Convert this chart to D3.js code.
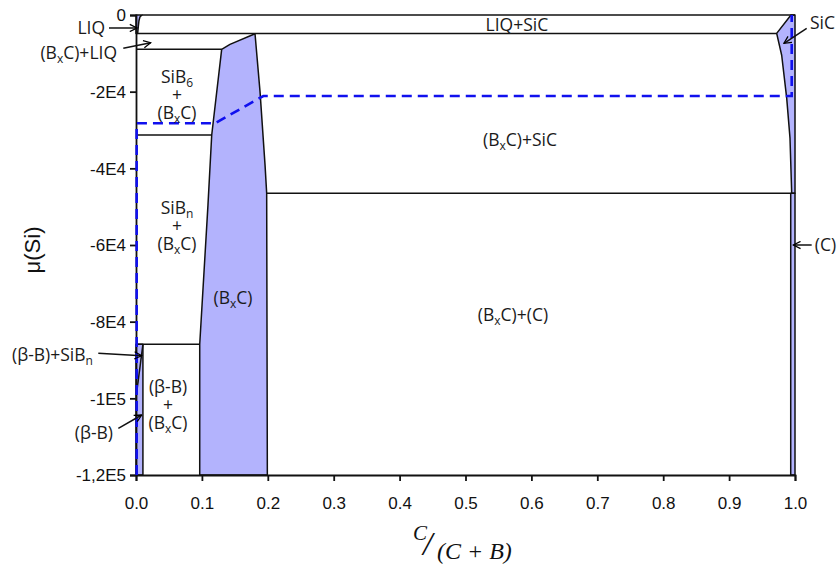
<!DOCTYPE html>
<html><head><meta charset="utf-8">
<script src="https://cdn.jsdelivr.net/npm/d3@7"></script>
<style>body{margin:0;background:#fff}svg{display:block}</style>
</head><body>
<svg id="c" width="839" height="565"></svg>
<script>
// ---- data (x = C/(C+B), mu = μ(Si)) ----
const xTicks = [0,0.1,0.2,0.3,0.4,0.5,0.6,0.7,0.8,0.9,1.0];
const yTicks = [0,-20000,-40000,-60000,-80000,-100000,-120000];
const yTickLabels = ["0","-2E4","-4E4","-6E4","-8E4","-1E5","-1,2E5"];

// single-phase (shaded) regions
const phaseLIQ = [[0,0],[0.009,0],[0.006,-500],[0.0045,-1500],[0.0035,-3000],[0.0025,-4800],[0,-4800]];
const phaseBxC = [[0.130,-8950],[0.1426,-7650],[0.1806,-4900],[0.1882,-20000],[0.1958,-39100],[0.1983,-46500],[0.1993,-120000],[0.0967,-120000],[0.0967,-85900],[0.1092,-49600],[0.1149,-31300]];
const phaseSiC = [[0.9939,0],[0.9722,-4800],[0.9798,-10500],[0.9874,-21700],[0.9924,-32100],[0.9950,-46500],[1,-46500],[1,0]];
const phaseC   = [[0.9935,-46500],[1,-46500],[1,-120000],[0.9935,-120000]];
const phaseBB  = [[0,-85900],[0.0105,-85900],[0.0105,-120000],[0,-120000]];

// phase boundaries (lines)
const bTop      = [[0.009,0],[1,0]];
const bLiqSiC   = [[0.0025,-4800],[0.9722,-4800]];
const bSiB6Top  = [[0,-8950],[0.130,-8950]];
const bSiB6Bot  = [[0,-31300],[0.1149,-31300]];
const bBxCSiC   = [[0.1983,-46500],[0.9935,-46500]];
const bSiBnBot  = [[0,-85900],[0.0967,-85900]];
const bBetaDiag = [[0.0105,-85900],[0.001,-98500]];

// dashed line
const dashedPath = [[0.001,-120000],[0.001,-28250],[0.1199,-28250],[0.1932,-21130],[0.995,-21130],[0.995,0]];

// labels: [text (| = new line), x, mu of first line, anchor]
const labels = [
  ["LIQ", -0.047, -3390, "end"],
  ["(B_xC)+LIQ", -0.0288, -9900, "end"],
  ["SiB_6|+|(B_xC)", 0.0622, -16300, "middle"],
  ["LIQ+SiC", 0.578, -2600, "middle"],
  ["SiC", 1.0228, -2090, "start"],
  ["(B_xC)+SiC", 0.5827, -32600, "middle"],
  ["SiB_n|+|(B_xC)", 0.0622, -50350, "middle"],
  ["(B_xC)", 0.1472, -73830, "middle"],
  ["(B_xC)+(C)", 0.572, -78260, "middle"],
  ["(C)", 1.030, -60000, "start"],
  ["(β-B)+SiB_n", -0.0653, -88700, "end"],
  ["(β-B)|+|(B_xC)", 0.0486, -97170, "middle"],
  ["(β-B)", -0.0349, -109040, "end"]
];

// arrows: [x1, mu1, x2, mu2]
const arrows = [
  [-0.041,-3390, 0.0015,-3390],
  [-0.0193,-8690, 0.0223,-7230],
  [1.0177,-3470, 0.9833,-7380],
  [1.0253,-60000, 0.9975,-60000],
  [-0.0572,-88260, 0.0085,-88900],
  [-0.0268,-107820, 0.0086,-104350]
];

// ---- drawing ----
const svg = d3.select("#c");
const x = d3.scaleLinear([0,1],[136,795]);
const y = d3.scaleLinear([-120000,0],[475,15]);
const line = d3.line().x(d=>x(d[0])).y(d=>y(d[1]));

const defs = svg.append("defs");
defs.append("marker").attr("id","arr").attr("viewBox","0 0 10 10")
  .attr("refX",9).attr("refY",5).attr("markerWidth",9).attr("markerHeight",9)
  .attr("markerUnits","userSpaceOnUse").attr("orient","auto")
  .append("path").attr("d","M1,1 L9,5 L1,9").attr("fill","none")
  .attr("stroke","#000").attr("stroke-width",1.4);

const fillCol = "#b3b3fd";
[phaseLIQ, phaseBxC, phaseSiC, phaseC, phaseBB].forEach(p=>{
  svg.append("path").attr("d", line(p)+"Z").attr("fill",fillCol)
    .attr("stroke","#111").attr("stroke-width",1.5).attr("stroke-linejoin","round");
});

[bTop,bLiqSiC,bSiB6Top,bSiB6Bot,bBxCSiC,bSiBnBot,bBetaDiag].forEach(b=>{
  svg.append("path").attr("d", line(b)).attr("fill","none")
    .attr("stroke","#111").attr("stroke-width",1.5);
});

// axes
const gx = svg.append("g").attr("transform",`translate(0,${y(-120000)})`)
  .call(d3.axisBottom(x).tickValues(xTicks).tickFormat(d3.format(".1f")).tickSizeOuter(0).tickSize(6).tickPadding(16));
const gy = svg.append("g").attr("transform",`translate(${x(0)},0)`)
  .call(d3.axisLeft(y).tickValues(yTicks).tickFormat((d,i)=>yTickLabels[i]).tickSizeOuter(0).tickSize(6).tickPadding(4));
[gx,gy].forEach(g=>{
  g.selectAll("path.domain").attr("stroke","#111").attr("stroke-width",1.8);
  g.selectAll(".tick line").attr("stroke","#111").attr("stroke-width",1.8);
  g.selectAll(".tick text").attr("font-family","'Liberation Sans', Arial, sans-serif")
    .attr("font-size",17).attr("fill","#111");
});
gy.selectAll(".tick text").attr("dy","0.35em");

// dashed line on top of the axis
svg.append("path").attr("d", line(dashedPath)).attr("fill","none")
  .attr("stroke","#1010ee").attr("stroke-width",2.6).attr("stroke-dasharray","10,6");

// labels
const lineGap = 18;
function addLabel(t, lx, ly, anchor){
  const el = svg.append("text").attr("text-anchor",anchor)
    .attr("font-family","'Open Sans', sans-serif")
    .attr("font-size",17.5).attr("fill","#1a1a1a");
  const px = x(lx), py = y(ly) + 6;
  t.split("|").forEach((ln,k)=>{
    const parts = ln.split("_");
    el.append("tspan").attr("x",px).attr("y",py + k*lineGap).text(parts[0]);
    for(let i=1;i<parts.length;i++){
      el.append("tspan").attr("font-size",12).attr("dy",4).text(parts[i][0]);
      if(parts[i].length>1) el.append("tspan").attr("dy",-4).text(parts[i].slice(1));
    }
  });
}
labels.forEach(l=>addLabel(l[0],l[1],l[2],l[3]));

arrows.forEach(a=>{
  svg.append("line").attr("x1",x(a[0])).attr("y1",y(a[1])).attr("x2",x(a[2])).attr("y2",y(a[3]))
    .attr("stroke","#111").attr("stroke-width",1.5).attr("marker-end","url(#arr)");
});

// axis titles
svg.append("text").attr("transform","translate(40,250) rotate(-90)").attr("text-anchor","middle")
  .attr("font-family","'Liberation Sans', Arial, sans-serif").attr("font-size",22).attr("fill","#111").text("μ(Si)");
const xt = svg.append("g").attr("font-family","'Liberation Serif', serif").attr("font-style","italic").attr("fill","#111");
xt.append("text").attr("x",413).attr("y",540).attr("font-size",21).text("C");
xt.append("text").attr("x",423).attr("y",555).attr("font-size",34).text("/");
xt.append("text").attr("x",437).attr("y",559).attr("font-size",24).text("(C + B)");
</script>
</body></html>
